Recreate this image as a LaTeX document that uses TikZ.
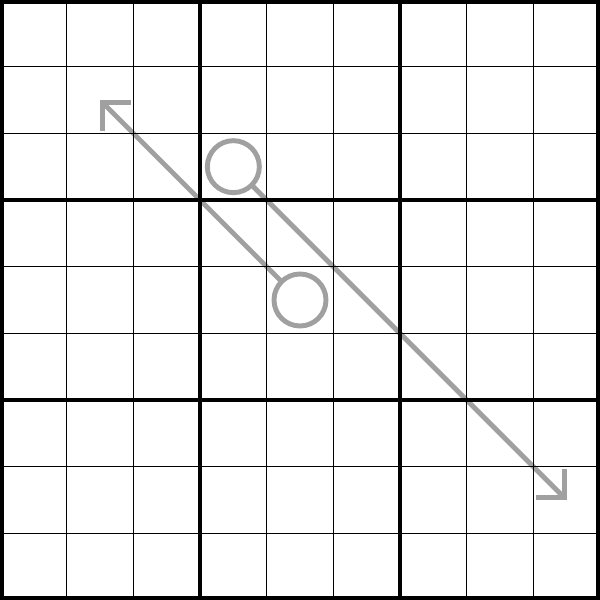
\documentclass[tikz,border=0pt]{standalone}
\usetikzlibrary{arrows.meta}
\definecolor{argray}{RGB}{160,160,160}
\tikzset{
  thinline/.style={line width=0.6pt, black},
  thickline/.style={line width=1.7pt, black},
  borderline/.style={line width=3.6pt, black},
  bulb/.style={circle, draw=argray, line width=2.1pt, minimum size=0.78cm, inner sep=0pt, outer sep=0pt},
  arrowline/.style={draw=argray, line width=2.1pt, -{Straight Barb[length=3.0mm, width=6.0mm, line cap=butt, line join=miter]}}
}
\begin{document}
\begin{tikzpicture}
\useasboundingbox (0,0) rectangle (9,9);
\clip (0,0) rectangle (9,9);
% arrows
\node[bulb] (b1) at (3.5,6.5) {};
\node[bulb] (b2) at (4.5,4.5) {};
\coordinate (t1) at (1.5,7.5);
\coordinate (t2) at (8.5,1.5);
\draw[arrowline] (b2) -- (t1);
\draw[arrowline] (b1) -- (t2);
% grid
\foreach \i in {1,2,4,5,7,8} {
  \draw[thinline] (\i,0) -- (\i,9);
  \draw[thinline] (0,\i) -- (9,\i);
}
\foreach \i in {3,6} {
  \draw[thickline] (\i,0) -- (\i,9);
  \draw[thickline] (0,\i) -- (9,\i);
}
\draw[borderline] (0,0) rectangle (9,9);
\end{tikzpicture}
\end{document}
